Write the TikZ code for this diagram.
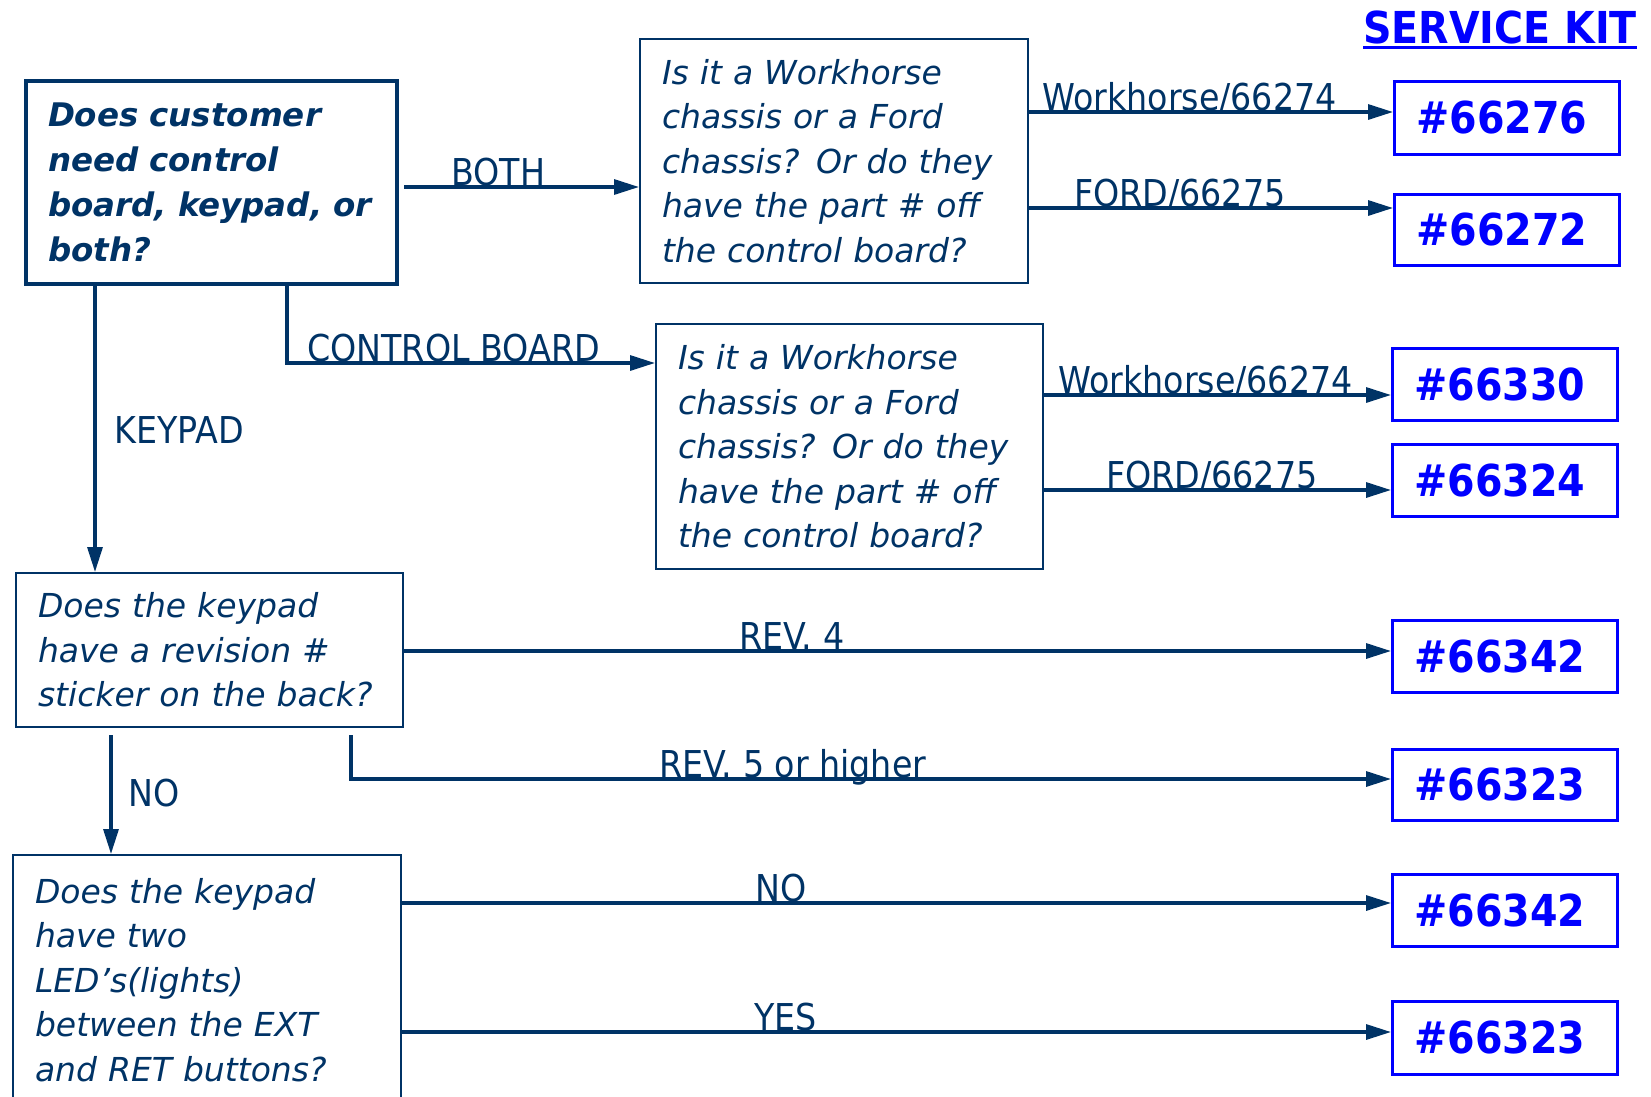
\documentclass[tikz,border=0pt]{standalone}
\usepackage{fontspec}
\setmainfont{DejaVu Sans}
\newfontfamily\condfont[FakeStretch=0.9]{DejaVu Sans}
\usetikzlibrary{arrows.meta,calc}
\definecolor{navy}{RGB}{0,51,102}
\definecolor{kitblue}{RGB}{0,0,255}
\tikzset{
    question/.style={draw=navy, line width=2pt, anchor=north west, align=left, inner xsep=22pt, inner ysep=0pt, text=navy, font=\itshape\fontsize{33}{44.5}\selectfont},
    kit/.style={draw=kitblue, line width=2.5pt, anchor=north west, text width=181pt, inner xsep=22pt, inner ysep=0pt, align=left, text=kitblue, font=\condfont\bfseries\fontsize{44}{50}\selectfont},
    flow/.style={navy, line width=3.2pt, -{Triangle[length=25pt,width=15pt]}},
    lbl/.style={anchor=base west, inner sep=0pt, text=navy, font=\condfont\fontsize{37}{40}\selectfont},
}
\begin{document}
\begin{tikzpicture}[x=1pt, y=-1pt]
    \path[use as bounding box, fill=white] (0,0) rectangle (1651,1096);
    \clip (0,0) rectangle (1651,1096);

    % Questions
    \node[question, line width=4pt, text width=327pt, minimum height=203pt, font=\bfseries\itshape\fontsize{32.5}{45}\selectfont] (qa) at (24,79)
        {Does customer\\need control\\board, keypad, or\\both?};
    \node[question, text width=344pt, minimum height=244pt] (qb) at (639,38)
        {Is it a Workhorse\\chassis or a Ford\\chassis? Or do they\\have the part \# off\\the control board?};
    \node[question, text width=343pt, minimum height=245pt] (qc) at (655,323)
        {Is it a Workhorse\\chassis or a Ford\\chassis? Or do they\\have the part \# off\\the control board?};
    \node[question, text width=343pt, minimum height=154pt] (qd) at (15,572)
        {Does the keypad\\have a revision \#\\sticker on the back?};
    \node[question, text width=344pt, minimum height=250pt] (qe) at (12,854)
        {Does the keypad\\have two\\LED’s(lights)\\between the EXT\\and RET buttons?};

    % Service kits
    \node[anchor=base west, inner sep=0pt, text=kitblue, font=\condfont\bfseries\fontsize{44}{50}\selectfont] (title) at (1363,43) {SERVICE KIT};
    \draw[kitblue, line width=3pt] ($(title.base west)+(0,4)$) -- ($(title.base east)+(0,4)$);
    \foreach \n/\x/\y/\h/\num in {r1/1393/80/73/66276, r2/1393/193/71/66272, r3/1391/347/72/66330, r4/1391/443/72/66324,
                                  r5/1391/619/72/66342, r6/1391/748/71/66323, r7/1391/873/72/66342, r8/1391/1000/73/66323}
        \node[kit, minimum height=\h pt] (\n) at (\x,\y) {\#\num};

    % Connectors
    \draw[flow] ($(qa.east |- 0,187)+(5,0)$) -- (qb.west |- 0,187);
    \draw[flow] (qa.south -| 287,0) |- (qc.west |- 0,363);
    \draw[flow] (qa.south -| 95,0) -- (qd.north -| 95,0);
    \draw[flow] (qb.east |- 0,112) -- (r1.west |- 0,112);
    \draw[flow] (qb.east |- 0,208) -- (r2.west |- 0,208);
    \draw[flow] (qc.east |- 0,395) -- (r3.west |- 0,395);
    \draw[flow] (qc.east |- 0,490) -- (r4.west |- 0,490);
    \draw[flow] (qd.east |- 0,651) -- (r5.west |- 0,651);
    \draw[flow] ($(qd.south -| 351,0)+(0,7)$) |- (r6.west |- 0,779);
    \draw[flow] ($(qd.south -| 111,0)+(0,7)$) -- (qe.north -| 111,0);
    \draw[flow] (qe.east |- 0,903) -- (r7.west |- 0,903);
    \draw[flow] (qe.east |- 0,1032) -- (r8.west |- 0,1032);

    % Answers
    \node[lbl] (lboth) at (451,185) {BOTH};
    \node[lbl] (lcb) at (307,361) {CONTROL BOARD};
    \node[lbl] (lkey) at (114,443) {KEYPAD};
    \node[lbl] (lwa) at (1042,110) {Workhorse/66274};
    \node[lbl] (lfa) at (1074,206) {FORD/66275};
    \node[lbl] (lwb) at (1058,393) {Workhorse/66274};
    \node[lbl] (lfb) at (1106,488) {FORD/66275};
    \node[lbl] (lrevf) at (739,649) {REV. 4};
    \node[lbl] (lrevh) at (659,777) {REV. 5 or higher};
    \node[lbl] (lnoa) at (128,806) {NO};
    \node[lbl] (lnob) at (755,901) {NO};
    \node[lbl] (lyes) at (754,1030) {YES};
\end{tikzpicture}
\end{document}
